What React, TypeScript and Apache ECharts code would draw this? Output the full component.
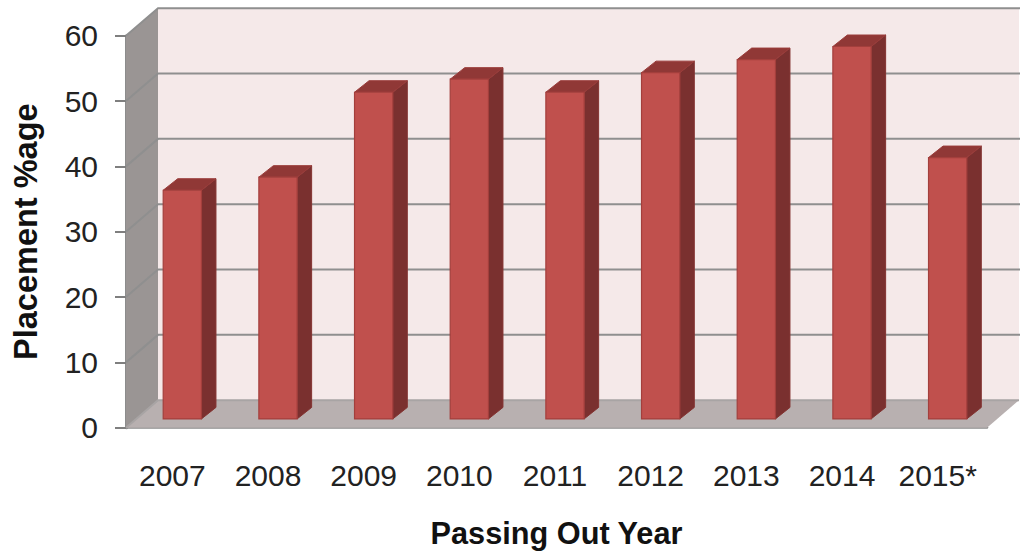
import React, { useEffect, useRef } from "react";
import * as echarts from "echarts";

const categories = ["2007", "2008", "2009", "2010", "2011", "2012", "2013", "2014", "2015*"];
const placement = [35, 37, 50, 52, 50, 53, 55, 57, 40];
const gridValues = [10, 20, 30, 40, 50, 60];

const WALL_DX = 32;
const WALL_DY = -27.5;
const BAR_DX = 8.5;
const BAR_DY = -8.8;
const DEPTH_X = 14.5;
const DEPTH_Y = -11.5;
const FONT = "'Liberation Sans', Arial, sans-serif";

export default function App() {
  const ref = useRef<HTMLDivElement>(null);
  useEffect(() => {
    const chart = echarts.init(ref.current!, undefined, { renderer: "svg" });
    chart.setOption({
      animation: false,
      backgroundColor: "#ffffff",
      grid: { left: 126, top: 35.7, width: 861, height: 392, containLabel: false, outerBoundsMode: "none" },
      xAxis: {
        type: "category",
        data: categories,
        axisTick: { show: false },
        axisLine: { show: true, lineStyle: { color: "#8c8c8c", width: 2.5 } },
        axisLabel: { color: "#222222", fontSize: 30, fontFamily: FONT, margin: 33, interval: 0, padding: [0, 3, 0, 0] },
        name: "Passing Out Year",
        nameLocation: "middle",
        nameGap: 90,
        nameTextStyle: { color: "#111111", fontSize: 30.7, fontWeight: "bold", fontFamily: FONT },
      },
      yAxis: {
        type: "value",
        min: 0,
        max: 60,
        interval: 10,
        splitLine: { show: false },
        axisLine: { show: true, lineStyle: { color: "#8c8c8c", width: 3 } },
        axisTick: { show: true, length: 11, lineStyle: { color: "#7f7f7f", width: 2 } },
        axisLabel: { color: "#222222", fontSize: 30, fontFamily: FONT, margin: 28 },
        name: "Placement %age",
        nameLocation: "middle",
        nameGap: 84,
        nameTextStyle: { color: "#111111", fontSize: 32.5, fontWeight: "bold", fontFamily: FONT },
      },
      series: [
        {
          type: "custom",
          z: 1,
          data: [0],
          silent: true,
          renderItem: (params: any, api: any) => {
            const c = params.coordSys;
            const l = c.x, r = c.x + c.width, t = c.y, b = c.y + c.height;
            return {
              type: "group",
              children: [
                { type: "rect", shape: { x: l + WALL_DX, y: t + WALL_DY, width: c.width, height: c.height }, style: { fill: "#f5e9e9" } },
                { type: "polygon", shape: { points: [[l, b], [l + WALL_DX, b + WALL_DY], [l + WALL_DX, t + WALL_DY], [l, t]] }, style: { fill: "#9a9594" } },
                { type: "polygon", shape: { points: [[l, b], [l + WALL_DX, b + WALL_DY], [r + WALL_DX, b + WALL_DY], [r, b]] }, style: { fill: "#b8b0b0" } },
                { type: "polyline", shape: { points: [[l, b], [l + WALL_DX, b + WALL_DY], [r + WALL_DX, b + WALL_DY]] }, style: { stroke: "#a8a4a4", lineWidth: 2, fill: "none" } },
              ],
            };
          },
        },
        {
          type: "custom",
          z: 2,
          data: gridValues,
          silent: true,
          encode: { y: 0 },
          renderItem: (params: any, api: any) => {
            const c = params.coordSys;
            const p = api.coord([0, api.value(0)]);
            const y = p[1];
            return {
              type: "polyline",
              shape: { points: [[c.x, y], [c.x + WALL_DX, y + WALL_DY], [c.x + c.width + WALL_DX + 1, y + WALL_DY]] },
              style: { stroke: "#8f8f8f", lineWidth: 2, fill: "none" },
            };
          },
        },
        {
          type: "custom",
          z: 3,
          data: placement.map((v, i) => [i, v]),
          silent: true,
          encode: { x: 0, y: 1 },
          renderItem: (params: any, api: any) => {
            const top = api.coord([api.value(0), api.value(1)]);
            const base = api.coord([api.value(0), 0]);
            const w = api.size([1, 0])[0] * 0.4;
            const xl = top[0] - w / 2 + BAR_DX;
            const xr = xl + w;
            const yt = top[1] + BAR_DY;
            const yb = base[1] + BAR_DY;
            return {
              type: "group",
              children: [
                { type: "polygon", shape: { points: [[xr, yb], [xr + DEPTH_X, yb + DEPTH_Y], [xr + DEPTH_X, yt + DEPTH_Y], [xr, yt]] }, style: { fill: "#7a302f", stroke: "#843432", lineWidth: 1 } },
                { type: "polygon", shape: { points: [[xl, yt], [xl + DEPTH_X, yt + DEPTH_Y], [xr + DEPTH_X, yt + DEPTH_Y], [xr, yt]] }, style: { fill: "#903836", stroke: "#9a3c3a", lineWidth: 1 } },
                { type: "rect", shape: { x: xl, y: yt, width: w, height: yb - yt }, style: { fill: "#c0504d", stroke: "#a33f3c", lineWidth: 1.2 } },
              ],
            };
          },
        },
      ],
    });
    return () => chart.dispose();
  }, []);
  return <div ref={ref} style={{ position: "fixed", left: 0, top: 0, width: 1027, height: 552 }} />;
}
